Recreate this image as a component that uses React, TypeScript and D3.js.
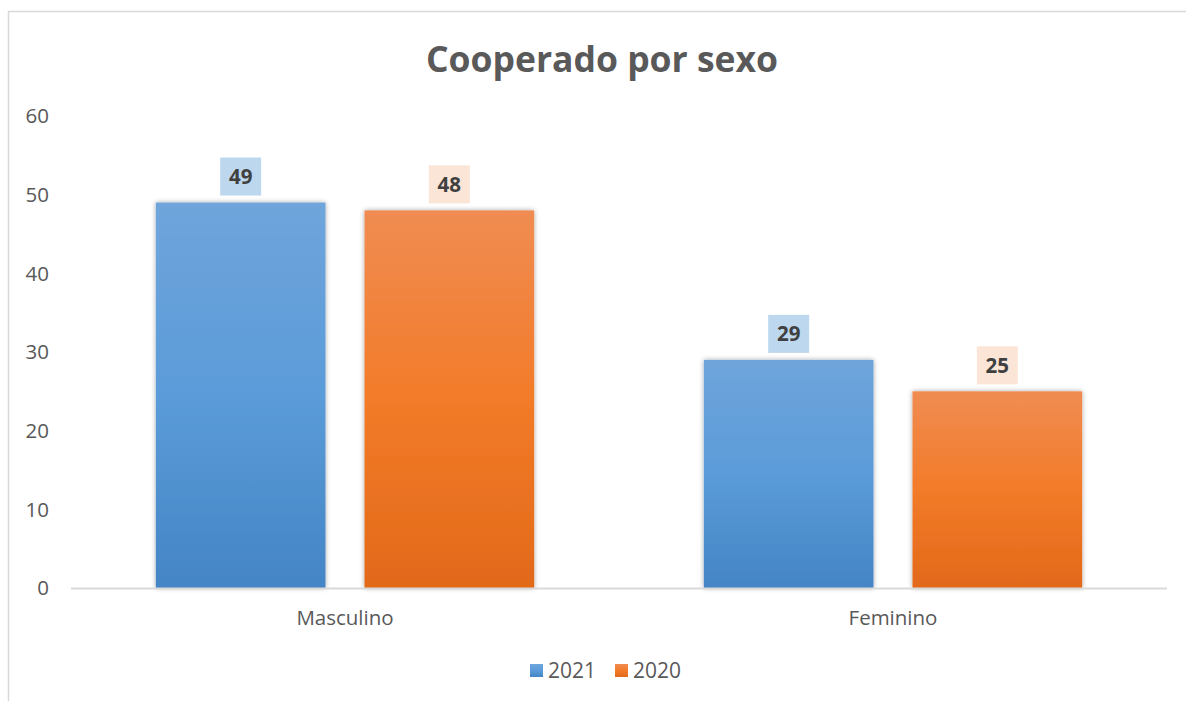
import React from "react";
import * as d3 from "d3";

const categories = ["Masculino", "Feminino"];
const seriesNames = ["2021", "2020"];
const values2021 = [49, 29];
const values2020 = [48, 25];
const yTicks = [0, 10, 20, 30, 40, 50, 60];
const title = "Cooperado por sexo";

const W = 1186;
const H = 701;
const FONT = "'Open Sans', 'Noto Sans', sans-serif";

export default function App() {
  const x0 = d3.scaleBand<string>().domain(categories).range([71, 1167]).paddingInner(0).paddingOuter(0);
  const y = d3.scaleLinear().domain([0, 60]).range([588, 116]);
  const bw = x0.bandwidth();
  // gap width 100%, overlap -23%
  const barW = bw / (2 + 0.23 + 1.0);
  const gapInner = barW * 0.23;
  const series = [
    { name: seriesNames[0], values: values2021, grad: "gBlue", box: "#BDD7EE" },
    { name: seriesNames[1], values: values2020, grad: "gOrange", box: "#FBE5D6" },
  ];

  return (
    <svg width={W} height={H} style={{ position: "absolute", left: 0, top: 0, background: "#fff" }}>
      <defs>
        <linearGradient id="gBlue" x1="0" y1="0" x2="0" y2="1">
          <stop offset="0" stopColor="#6FA5DB" />
          <stop offset="0.5" stopColor="#5B9BD9" />
          <stop offset="1" stopColor="#4485C5" />
        </linearGradient>
        <linearGradient id="gOrange" x1="0" y1="0" x2="0" y2="1">
          <stop offset="0" stopColor="#F08C52" />
          <stop offset="0.5" stopColor="#F27B29" />
          <stop offset="1" stopColor="#E26919" />
        </linearGradient>
        <filter id="shadow" x="-10%" y="-10%" width="120%" height="120%">
          <feDropShadow dx="0" dy="0" stdDeviation="2.5" floodColor="#000" floodOpacity="0.35" />
        </filter>
      </defs>
      {/* chart border */}
      <line x1={8.5} y1={11} x2={8.5} y2={H} stroke="#D9D9D9" strokeWidth={1.5} />
      <line x1={8} y1={11.5} x2={W} y2={11.5} stroke="#D9D9D9" strokeWidth={1.5} />

      <text x={602} y={72} textAnchor="middle" fontFamily={FONT} fontWeight={700} fontSize={35.5} fill="#595959">
        {title}
      </text>

      {yTicks.map((t) => (
        <text key={t} x={49} y={y(t)} dy="0.35em" textAnchor="end" fontFamily={FONT} fontSize={20.5} fill="#595959">
          {t}
        </text>
      ))}

      {series.map((s, si) =>
        categories.map((c, ci) => {
          const bx = (x0(c) as number) + barW * 0.5 + si * (barW + gapInner);
          const v = s.values[ci];
          return (
            <rect
              key={s.name + c}
              x={bx}
              y={y(v)}
              width={barW}
              height={y(0) - y(v)}
              fill={`url(#${s.grad})`}
              filter="url(#shadow)"
            />
          );
        })
      )}

      <line x1={71} x2={1167} y1={588.5} y2={588.5} stroke="#D9D9D9" strokeWidth={2} />

      {series.map((s, si) =>
        categories.map((c, ci) => {
          const cx = (x0(c) as number) + barW * 0.5 + si * (barW + gapInner) + barW / 2;
          const v = s.values[ci];
          const by = y(v) - 7;
          return (
            <g key={"l" + s.name + c}>
              <rect x={cx - 20.5} y={by - 38} width={41} height={38} fill={s.box} />
              <text x={cx} y={by - 19} dy="0.36em" textAnchor="middle" fontFamily={FONT} fontWeight={700} fontSize={20.5} fill="#404040">
                {v}
              </text>
            </g>
          );
        })
      )}

      {categories.map((c) => (
        <text key={c} x={(x0(c) as number) + bw / 2} y={618} dy="0.35em" textAnchor="middle" fontFamily={FONT} fontSize={20.5} fill="#595959">
          {c}
        </text>
      ))}

      {series.map((s, si) => {
        const lx = 530 + si * 85;
        return (
          <g key={"lg" + s.name}>
            <rect x={lx} y={664} width={13} height={13} fill={`url(#${s.grad})`} />
            <text x={lx + 18} y={671} dy="0.35em" fontFamily={FONT} fontSize={21} fill="#595959">
              {s.name}
            </text>
          </g>
        );
      })}
    </svg>
  );
}
